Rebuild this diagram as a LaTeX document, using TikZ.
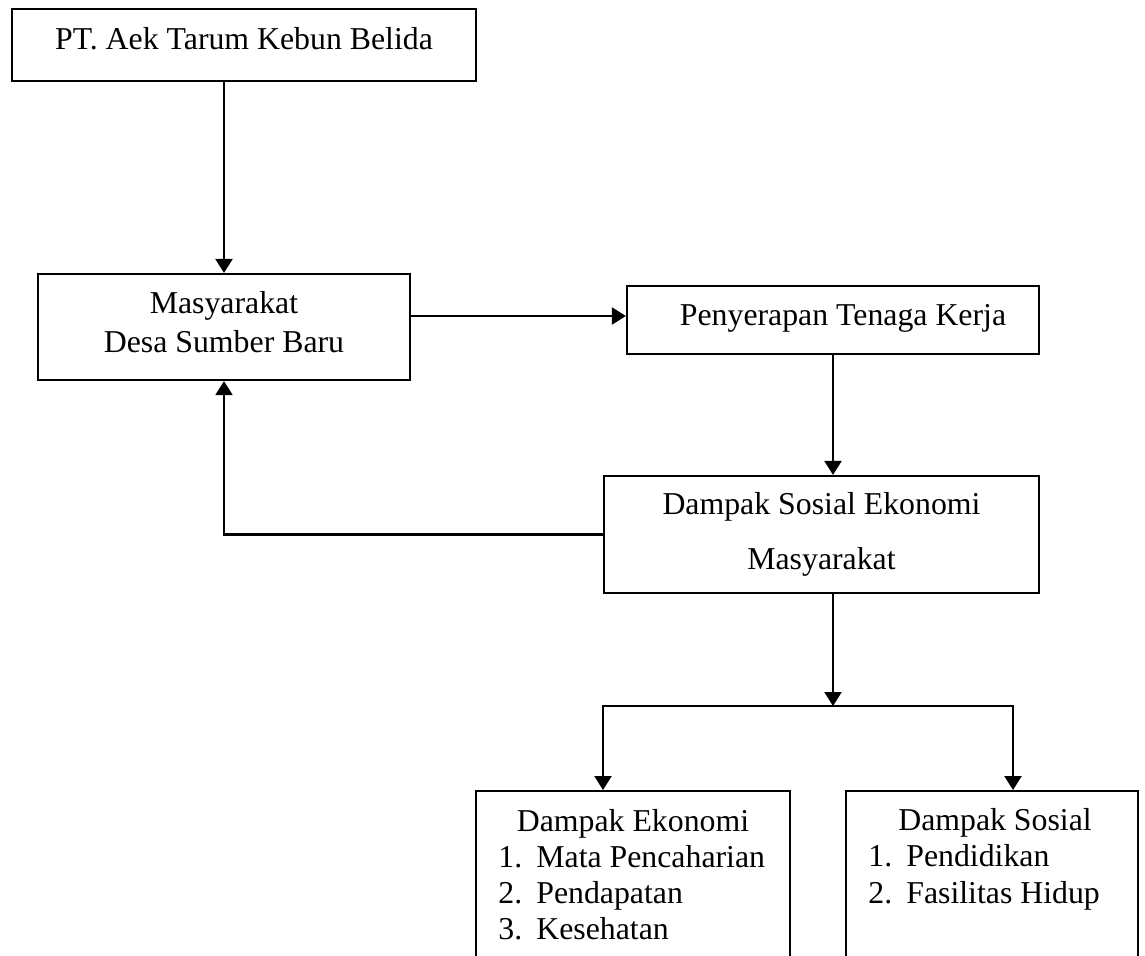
\documentclass[tikz,border=0pt]{standalone}
\usepackage{fontspec}
\setmainfont{Liberation Serif}
\usetikzlibrary{arrows.meta}

\tikzset{
    kotak/.style={draw, line width=1.1pt, inner sep=0pt},
    teks/.style={inner sep=0pt},
    panah/.style={line width=1.1pt, -{Triangle[length=7pt, width=8.5pt]}},
}

\begin{document}
\begin{tikzpicture}[x=0.5pt, y=-0.5pt, font=\fontsize{15.9pt}{19.5pt}\selectfont]
    \useasboundingbox (0,0) rectangle (1145,955);
    \clip (0,0) rectangle (1145,955);

    % kotak atas
    \node[kotak, minimum width=232pt, minimum height=36pt, text height=11pt, text depth=7pt] (pt) at (244,45) {PT. Aek Tarum Kebun Belida};
    \node[kotak, minimum width=186pt, minimum height=53pt, align=center] (desa) at (224,327) {Masyarakat\\Desa Sumber Baru\rule[-5.4pt]{0pt}{5.4pt}};
    \node[kotak, minimum width=206pt, minimum height=34pt, text height=11pt, text depth=6pt] (kerja) at (833,320) {\hspace*{10pt}Penyerapan Tenaga Kerja};
    \node[kotak, minimum width=217.5pt, minimum height=58.5pt, align=center, font=\fontsize{15.9pt}{27.5pt}\selectfont] (dampak) at (821.5,534.5) {Dampak Sosial Ekonomi\\Masyarakat};

    % kotak bawah (terpotong di tepi)
    \node[kotak, anchor=north, minimum width=157pt, minimum height=100pt] (ekonomi) at (633,790) {};
    \node[kotak, anchor=north, minimum width=146pt, minimum height=100pt] (sosial) at (992,790) {};

    \node[teks, anchor=base] (judulEko) at (633,831) {Dampak Ekonomi};
    \node[teks, anchor=base west] (eko1) at (498,867) {\makebox[19pt][l]{1.}Mata Pencaharian};
    \node[teks, anchor=base west] (eko2) at (498,903) {\makebox[19pt][l]{2.}Pendapatan};
    \node[teks, anchor=base west] (eko3) at (498,939) {\makebox[19pt][l]{3.}Kesehatan};

    \node[teks, anchor=base] (judulSos) at (995,830) {Dampak Sosial};
    \node[teks, anchor=base west] (sos1) at (868,866) {\makebox[19pt][l]{1.}Pendidikan};
    \node[teks, anchor=base west] (sos2) at (868,903) {\makebox[19pt][l]{2.}Fasilitas Hidup};

    % panah
    \draw[panah] (pt.south -| desa.north) -- (desa.north);
    \draw[panah] ([yshift=5.5pt]desa.east) -- ([yshift=5.5pt]desa.east -| kerja.west);
    \draw[panah] (kerja.south) -- (kerja.south |- dampak.north);
    \draw[panah] (dampak.west) -| (desa.south);

    \coordinate (cabang) at (833,706);
    \coordinate (kiri) at (603,706);
    \coordinate (kanan) at (1013,706);
    \draw[panah] (kerja.south |- dampak.south) -- (cabang);
    \draw[panah] (cabang) -- (kiri) -- (kiri |- ekonomi.north);
    \draw[panah] (cabang) -- (kanan) -- (kanan |- sosial.north);
\end{tikzpicture}
\end{document}
